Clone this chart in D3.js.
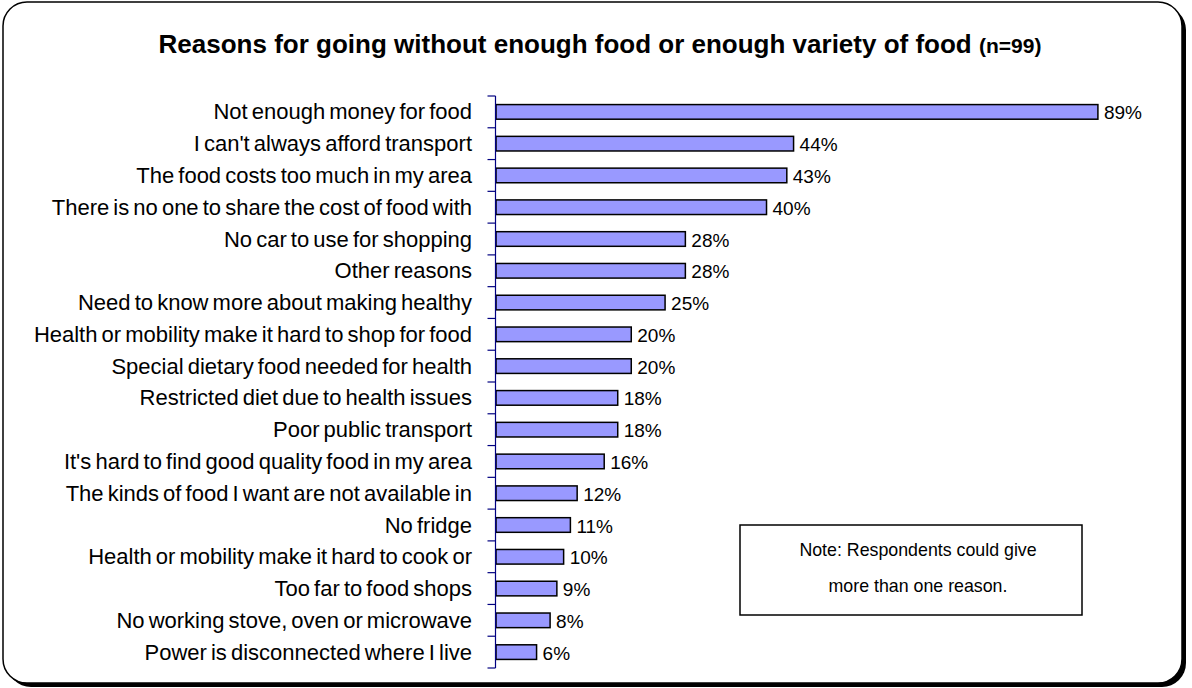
<!DOCTYPE html>
<html>
<head>
<meta charset="utf-8">
<script src="https://cdn.jsdelivr.net/npm/d3@7"></script>
<style>
  html, body { margin: 0; padding: 0; background: #fff; }
  svg { display: block; }
  text { font-family: "Liberation Sans", Arial, sans-serif; fill: #000; }
</style>
</head>
<body>
<svg id="chart" width="1192" height="688"></svg>
<script>
const categories = [
  "Not enough money for food",
  "I can't always afford transport",
  "The food costs too much in my area",
  "There is no one to share the cost of food with",
  "No car to use for shopping",
  "Other reasons",
  "Need to know more about making healthy",
  "Health or mobility make it hard to shop for food",
  "Special dietary food needed for health",
  "Restricted diet due to health issues",
  "Poor public transport",
  "It's hard to find good quality food in my area",
  "The kinds of food I want are not available in",
  "No fridge",
  "Health or mobility make it hard to cook or",
  "Too far to food shops",
  "No working stove, oven or microwave",
  "Power is disconnected where I live"
];
const values = [89, 44, 43, 40, 28, 28, 25, 20, 20, 18, 18, 16, 12, 11, 10, 9, 8, 6];
const titleText = "Reasons for going without enough food or enough variety of food";
const titleNote = "(n=99)";
const noteLines = ["Note: Respondents could give", "more than one reason."];

const svg = d3.select("#chart");

// Frame with shadow
svg.append("rect").attr("x", 7).attr("y", 6).attr("width", 1179).attr("height", 681)
  .attr("rx", 24).attr("ry", 24).attr("fill", "#000");
svg.append("rect").attr("x", 3).attr("y", 2).attr("width", 1179).attr("height", 681)
  .attr("rx", 24).attr("ry", 24).attr("fill", "#fff").attr("stroke", "#000").attr("stroke-width", 1.5);

// Title
const title = svg.append("text").attr("x", 600).attr("y", 53).attr("text-anchor", "middle")
  .style("font-weight", "bold").style("font-size", "26px");
title.append("tspan").text(titleText + " ");
title.append("tspan").style("font-size", "21px").text(titleNote);

const x0 = 496;
const x = d3.scaleLinear().domain([0, 100]).range([x0, x0 + 676.3]);
const y = d3.scaleBand().domain(categories).range([96, 668]).paddingInner(0.54).paddingOuter(0.27);
const yb = d3.scaleBand().domain(categories).range([96, 668]);

// Bars
svg.append("g").selectAll("rect").data(values).join("rect")
  .attr("x", x(0))
  .attr("y", (d, i) => y(categories[i]))
  .attr("width", d => x(d) - x(0))
  .attr("height", y.bandwidth())
  .attr("fill", "#9999FF")
  .attr("stroke", "#000")
  .attr("stroke-width", 1.5);

// Axis
const axis = svg.append("g").attr("transform", `translate(${x0 - 0.5},0)`);
axis.append("line").attr("x1", 0).attr("x2", 0).attr("y1", 96).attr("y2", 668)
  .attr("stroke", "#000080").attr("stroke-width", 1.2);
const tickYs = categories.map(c => yb(c)).concat([668]);
axis.selectAll("line.tick").data(tickYs).join("line").attr("class", "tick")
  .attr("x1", -8).attr("x2", 0).attr("y1", d => d).attr("y2", d => d)
  .attr("stroke", "#000080").attr("stroke-width", 1.2);

// Category labels
svg.append("g").selectAll("text").data(categories).join("text")
  .attr("x", 472)
  .attr("y", d => yb(d) + yb.bandwidth() / 2 + 7.5)
  .attr("text-anchor", "end")
  .style("font-size", "22px")
  .style("word-spacing", "-2px")
  .text(d => d);

// Value labels
svg.append("g").selectAll("text").data(values).join("text")
  .attr("x", d => x(d) + 6)
  .attr("y", (d, i) => yb(categories[i]) + yb.bandwidth() / 2 + 7.5)
  .style("font-size", "19px")
  .text(d => d + "%");

// Note box
svg.append("rect").attr("x", 740).attr("y", 525).attr("width", 342).attr("height", 90)
  .attr("fill", "#fff").attr("stroke", "#000").attr("stroke-width", 1.5);
svg.append("g").selectAll("text").data(noteLines).join("text")
  .attr("x", 918).attr("y", (d, i) => 556 + i * 36)
  .attr("text-anchor", "middle")
  .style("font-size", "17.8px")
  .text(d => d);
</script>
</body>
</html>
